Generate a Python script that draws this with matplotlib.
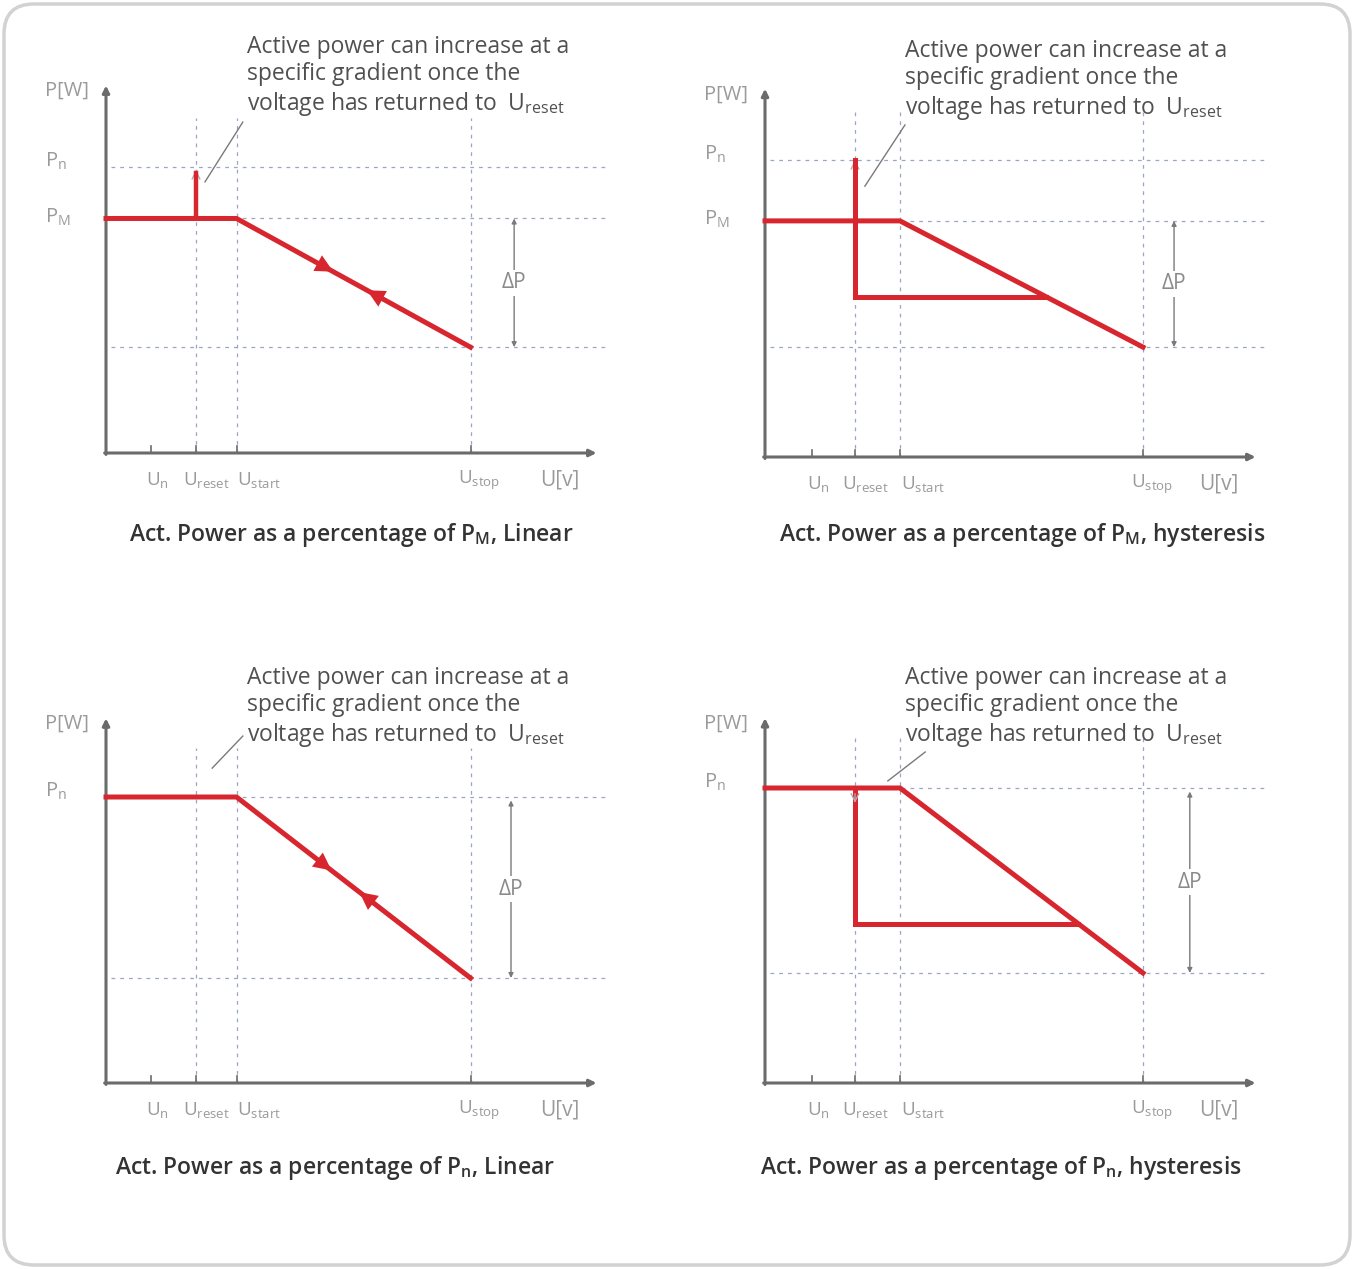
import numpy as np
import matplotlib.pyplot as plt
from matplotlib.patches import FancyBboxPatch

plt.rcParams['font.family'] = ['Open Sans', 'DejaVu Sans']
plt.rcParams['mathtext.fontset'] = 'custom'
plt.rcParams['mathtext.rm'] = 'Open Sans'
plt.rcParams['mathtext.it'] = 'Open Sans'
plt.rcParams['mathtext.bf'] = 'Open Sans:bold'
plt.rcParams['mathtext.default'] = 'regular'

W, H = 1354, 1269
RED = '#d7262e'
AXIS = '#6b6b6b'
GRID = '#9aa6c2'
LABEL = '#9a9a9a'

# voltage positions (arbitrary units) of U_n, U_reset, U_start, U_stop
u_names = ['n', 'reset', 'start', 'stop']
u_left = [1.0, 2.0, 2.9, 8.1]
u_right = [1.05, 2.0, 3.0, 8.4]
u_axis_end = 10.9

# power levels, P_n = 100
p_rated = [100, 100, 100, 100]
p_max = [82, 79.5, None, None]
p_stop = [37, 37, 36.7, 37.3]
p_hyst = [None, 54, None, 54]
spike_top = [98, 100, None, None]
p_axis_top = [128.5, 124, 127.5, 123.7]
arrow_u = [[4.75, 6.1], None, [4.71, 5.93], None]
dp_u = [9.07, 9.09, 9.0, 9.44]

titles = ['Act. Power as a percentage of P$_{M}$, Linear',
          'Act. Power as a percentage of P$_{M}$, hysteresis',
          'Act. Power as a percentage of P$_{n}$, Linear',
          'Act. Power as a percentage of P$_{n}$, hysteresis']
note = ('Active power can increase at a\nspecific gradient once the\n'
        'voltage has returned to  U$_{reset}$')

# layout: origin pixel, px per U unit, px per P unit
origins = [(106, 453), (765, 457), (106, 1083), (765, 1083)]
scale_y = [2.86, 2.97, 2.86, 2.95]
title_px = [(351, 535), (1022, 535), (335, 1168), (1001, 1168)]
note_px = [(247, 35), (905, 39), (247, 666), (905, 666)]
leader = [((3.04, 115.7), (2.20, 94.8)), ((3.11, 111.8), (2.22, 91.2)),
          ((3.04, 121.3), (2.36, 110.1)), ((3.56, 112.2), (2.73, 102.4))]

fig = plt.figure(figsize=(W / 100, H / 100), dpi=100)

# rounded frame
bg = fig.add_axes([0, 0, 1, 1])
bg.set_xlim(0, W)
bg.set_ylim(H, 0)
bg.axis('off')
bg.add_patch(FancyBboxPatch((4, 4), W - 8, H - 8,
                            boxstyle='round,pad=0,rounding_size=30',
                            fc='white', ec='#d2d2d2', lw=2.5))

for i in range(4):
    ox, oy = origins[i]
    sx, sy = 45, scale_y[i]
    left, right, top, bottom = ox - 75, ox + 545, oy - 445, oy + 45
    ax = fig.add_axes([left / W, 1 - bottom / H, (right - left) / W, (bottom - top) / H])
    ax.set_xlim((left - ox) / sx, (right - ox) / sx)
    ax.set_ylim((oy - bottom) / sy, (oy - top) / sy)
    ax.axis('off')

    u = u_left if i % 2 == 0 else u_right
    un, ureset, ustart, ustop = u
    pn, pm, ps = p_rated[i], p_max[i], p_stop[i]
    plat = pm if pm is not None else pn

    # dashed guides
    dash = dict(color=GRID, lw=0.9, dashes=(3, 4), zorder=1)
    ax.plot([0.1, 11.1], [pn, pn], **dash)
    if pm is not None:
        ax.plot([0.1, 11.1], [pm, pm], **dash)
    ax.plot([0.1, 11.1], [ps, ps], **dash)
    for x in (ureset, ustart, ustop):
        ax.plot([x, x], [0, 117], **dash)

    # axes with arrows
    arr = dict(arrowstyle='-|>', color=AXIS, lw=2.2, mutation_scale=10,
               shrinkA=0, shrinkB=0)
    ax.annotate('', xy=(0, p_axis_top[i]), xytext=(0, -0.5), arrowprops=arr)
    ax.annotate('', xy=(u_axis_end, 0), xytext=(-0.03, 0), arrowprops=arr)
    for x in u:
        ax.plot([x, x], [0, 2.5], color=AXIS, lw=1.2)

    # characteristic
    ax.plot([0, ustart, ustop], [plat, plat, ps], color=RED, lw=3.6,
            solid_joinstyle='miter', zorder=3)
    grey_head = dict(arrowstyle='->', color='#b8a8b0', lw=1, mutation_scale=14)
    if spike_top[i] is not None and p_hyst[i] is None:
        ax.plot([ureset, ureset], [plat, spike_top[i]], color=RED, lw=3.2, zorder=3)
        ax.annotate('', xy=(ureset, spike_top[i] + 2), xytext=(ureset, spike_top[i] - 4),
                    arrowprops=grey_head, zorder=2)
    if p_hyst[i] is not None:
        ph = p_hyst[i]
        ux = np.interp(ph, [ps, plat], [ustop, ustart])
        if spike_top[i] is not None:
            ax.plot([ux, ureset, ureset], [ph, ph, spike_top[i]], color=RED, lw=3.6,
                    solid_joinstyle='miter', zorder=3)
            ax.annotate('', xy=(ureset, spike_top[i] + 1), xytext=(ureset, spike_top[i] - 5),
                        arrowprops=grey_head, zorder=2)
        else:
            ax.plot([ureset, ureset, ux], [plat, ph, ph], color=RED, lw=3.6,
                    solid_joinstyle='miter', zorder=3)
            ax.annotate('', xy=(ureset, plat - 6), xytext=(ureset, plat - 1),
                        arrowprops=grey_head, zorder=4)
    if arrow_u[i] is not None:
        for k, xa in enumerate(arrow_u[i]):
            ya = np.interp(xa, [ustart, ustop], [plat, ps])
            dx = 0.3 if k == 0 else -0.3
            yb = np.interp(xa + dx, [ustart, ustop], [plat, ps])
            ax.annotate('', xy=(xa + dx, yb), xytext=(xa, ya),
                        arrowprops=dict(arrowstyle='-|>', color=RED, lw=0,
                                        mutation_scale=32, shrinkA=0, shrinkB=0),
                        zorder=4)

    # delta P
    ptop = plat if pm is not None else pn - 1.2
    ax.annotate('', xy=(dp_u[i], ptop), xytext=(dp_u[i], ps),
                arrowprops=dict(arrowstyle='<|-|>', color='#7a7a7a', lw=1,
                                mutation_scale=7, shrinkA=0, shrinkB=0))
    ax.text(dp_u[i], (ptop + ps) / 2, '\u0394P', ha='center', va='center',
            fontsize=15, color='#8a8a8a',
            bbox=dict(fc='white', ec='none', pad=2))

    # labels
    ax.text(-1.35, p_axis_top[i] - 2, 'P[W]', ha='left', va='center',
            fontsize=14.5, color=LABEL)
    ax.text(-1.35, pn + 2, 'P$_{n}$', ha='left', va='center', fontsize=14.5, color=LABEL)
    if pm is not None:
        ax.text(-1.35, pm + 0.5, 'P$_{M}$', ha='left', va='center', fontsize=14.5,
                color=LABEL)
    yl = -27 / sy
    offs = [0.14, 0.22, 0.5, 0.2]
    for x, nm, o in zip(u, u_names, offs):
        ax.text(x + o, yl, 'U$_{%s}$' % nm, ha='center', va='center',
                fontsize=13.5, color=LABEL)
    ax.text(10.09, yl, 'U[v]', ha='center', va='center', fontsize=15, color=LABEL)

    # leader line
    (x1, y1), (x2, y2) = leader[i]
    ax.plot([x1, x2], [y1, y2], color='#7a7a7a', lw=1)

    fig.text(note_px[i][0] / W, 1 - note_px[i][1] / H, note, ha='left', va='top',
             fontsize=16.5, color='#505050', linespacing=1.18)
    fig.text(title_px[i][0] / W, 1 - title_px[i][1] / H, titles[i], ha='center',
             va='center', fontsize=16.5, color='#333333', fontweight='semibold')

fig.savefig('out.png', dpi=100)
